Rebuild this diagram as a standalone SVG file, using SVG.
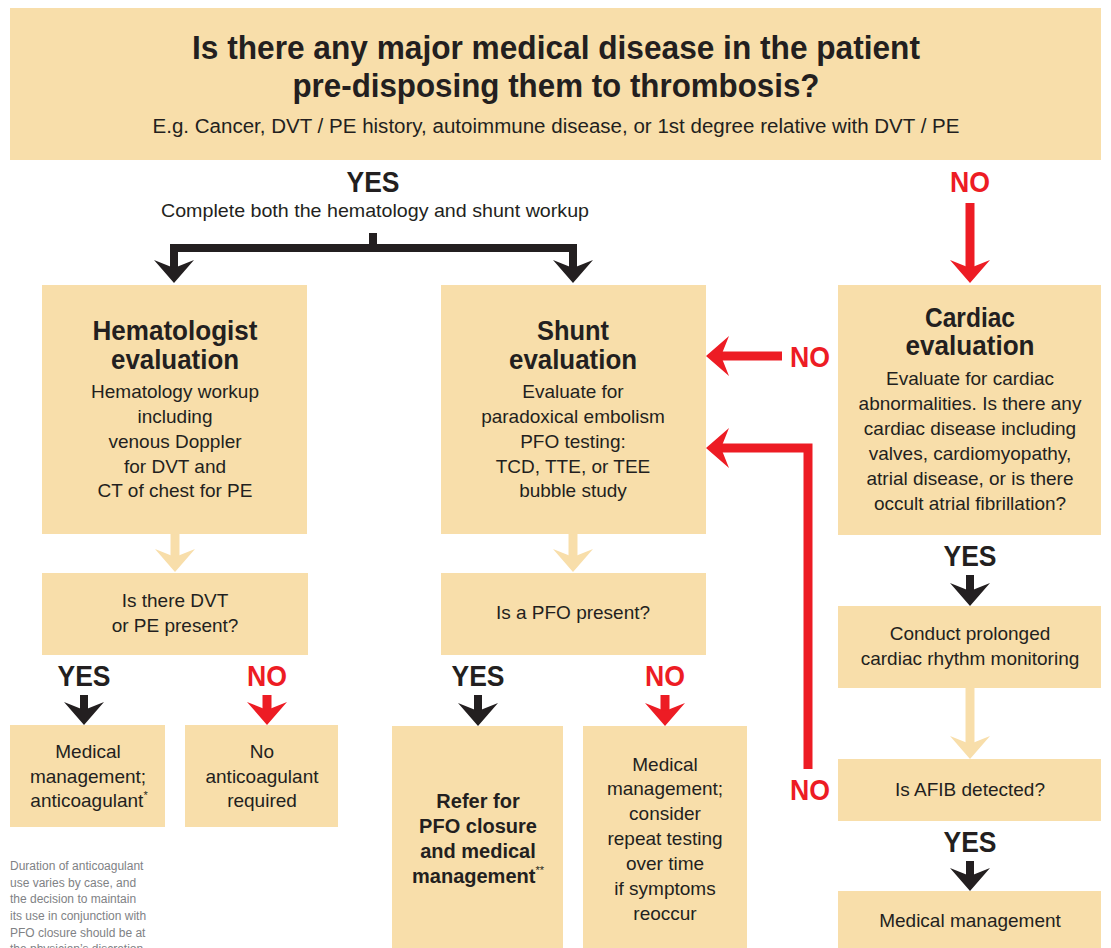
<svg xmlns="http://www.w3.org/2000/svg" xmlns:xlink="http://www.w3.org/1999/xlink" width="1111" height="948" viewBox="0 0 1111 948">
<style>
.box{fill:#F8DEAA}
.t{font-family:"Liberation Sans",Arial,sans-serif;fill:#231F20;text-anchor:middle}
.body{font-size:19px}
.bb{font-size:20px;font-weight:bold}
.h{font-size:28px;font-weight:bold}
.lbl{font-size:30px;font-weight:bold}
.red{fill:#ED1C24}
.foot{font-family:"Liberation Sans",Arial,sans-serif;font-size:12px;fill:#808285}
.lk{fill:none;stroke:#231F20;stroke-width:8}
.lr{fill:none;stroke:#ED1C24;stroke-width:9}
.lt{fill:none;stroke:#F8DEAA;stroke-width:9}
</style>
<defs>
<path id="hd" d="M0,0 L-20,-23 L0,-15 L20,-23 Z"/>
</defs>
<rect width="1111" height="948" fill="#FFFFFF"/>

<g id="title">
<rect class="box" x="10" y="8" width="1091" height="152"/>
<text class="t" x="556" y="59" font-size="34" font-weight="bold" textLength="728" lengthAdjust="spacingAndGlyphs">Is there any major medical disease in the patient</text>
<text class="t" x="556" y="97" font-size="34" font-weight="bold" textLength="527" lengthAdjust="spacingAndGlyphs">pre-disposing them to thrombosis?</text>
<text class="t" x="556" y="133" font-size="20" textLength="807" lengthAdjust="spacingAndGlyphs">E.g. Cancer, DVT / PE history, autoimmune disease, or 1st degree relative with DVT / PE</text>
</g>

<g id="connectors">
<path class="lk" d="M373,233 V248"/>
<path class="lk" d="M174,270 V248 H573 V270"/>
<use xlink:href="#hd" transform="translate(174,283)" fill="#231F20"/>
<use xlink:href="#hd" transform="translate(573,283)" fill="#231F20"/>
<path class="lr" d="M970,203 V270"/>
<use xlink:href="#hd" transform="translate(970,283)" fill="#ED1C24"/>
<path class="lr" d="M782,356 H720"/>
<use xlink:href="#hd" transform="translate(706,356) rotate(90)" fill="#ED1C24"/>
<path class="lr" d="M808,769 V448 H720"/>
<use xlink:href="#hd" transform="translate(706,448) rotate(90)" fill="#ED1C24"/>
<path class="lt" d="M175,533 V560"/>
<use xlink:href="#hd" transform="translate(175,572)" fill="#F8DEAA"/>
<path class="lt" d="M573,533 V560"/>
<use xlink:href="#hd" transform="translate(573,572)" fill="#F8DEAA"/>
<path class="lt" d="M970,688 V747"/>
<use xlink:href="#hd" transform="translate(970,759)" fill="#F8DEAA"/>
<path class="lk" d="M84,695 V713"/>
<use xlink:href="#hd" transform="translate(84,725)" fill="#231F20"/>
<path class="lr" d="M267,695 V713"/>
<use xlink:href="#hd" transform="translate(267,725)" fill="#ED1C24"/>
<path class="lk" d="M478,695 V714"/>
<use xlink:href="#hd" transform="translate(478,726)" fill="#231F20"/>
<path class="lr" d="M665,695 V714"/>
<use xlink:href="#hd" transform="translate(665,726)" fill="#ED1C24"/>
<path class="lk" d="M970,575 V594"/>
<use xlink:href="#hd" transform="translate(970,606)" fill="#231F20"/>
<path class="lk" d="M970,861 V879"/>
<use xlink:href="#hd" transform="translate(970,891)" fill="#231F20"/>
</g>

<g id="labels">
<text class="t lbl" x="373" y="192" textLength="53" lengthAdjust="spacingAndGlyphs">YES</text>
<text class="t body" x="375" y="217" textLength="428" lengthAdjust="spacingAndGlyphs">Complete both the hematology and shunt workup</text>
<text class="t lbl red" x="970" y="192" textLength="40" lengthAdjust="spacingAndGlyphs">NO</text>
<text class="t lbl red" x="810" y="367" textLength="40" lengthAdjust="spacingAndGlyphs">NO</text>
<text class="t lbl red" x="810" y="800" textLength="40" lengthAdjust="spacingAndGlyphs">NO</text>
<text class="t lbl" x="84" y="686" textLength="53" lengthAdjust="spacingAndGlyphs">YES</text>
<text class="t lbl red" x="267" y="686" textLength="40" lengthAdjust="spacingAndGlyphs">NO</text>
<text class="t lbl" x="478" y="686" textLength="53" lengthAdjust="spacingAndGlyphs">YES</text>
<text class="t lbl red" x="665" y="686" textLength="40" lengthAdjust="spacingAndGlyphs">NO</text>
<text class="t lbl" x="970" y="566" textLength="53" lengthAdjust="spacingAndGlyphs">YES</text>
<text class="t lbl" x="970" y="852" textLength="53" lengthAdjust="spacingAndGlyphs">YES</text>
</g>

<g id="hematologist">
<rect class="box" x="42" y="285" width="265" height="249"/>
<text class="t h" x="175" y="340" textLength="165" lengthAdjust="spacingAndGlyphs">Hematologist</text>
<text class="t h" x="175" y="369" textLength="128" lengthAdjust="spacingAndGlyphs">evaluation</text>
<text class="t body" x="175" y="398">Hematology workup</text>
<text class="t body" x="175" y="423">including</text>
<text class="t body" x="175" y="448">venous Doppler</text>
<text class="t body" x="175" y="473">for DVT and</text>
<text class="t body" x="175" y="497">CT of chest for PE</text>
</g>

<g id="shunt">
<rect class="box" x="441" y="285" width="265" height="249"/>
<text class="t h" x="573" y="340" textLength="72" lengthAdjust="spacingAndGlyphs">Shunt</text>
<text class="t h" x="573" y="369" textLength="128" lengthAdjust="spacingAndGlyphs">evaluation</text>
<text class="t body" x="573" y="398">Evaluate for</text>
<text class="t body" x="573" y="423">paradoxical embolism</text>
<text class="t body" x="573" y="448">PFO testing:</text>
<text class="t body" x="573" y="473">TCD, TTE, or TEE</text>
<text class="t body" x="573" y="497">bubble study</text>
</g>

<g id="cardiac">
<rect class="box" x="838" y="285" width="263" height="250"/>
<text class="t h" x="970" y="327" textLength="90" lengthAdjust="spacingAndGlyphs">Cardiac</text>
<text class="t h" x="970" y="355" textLength="129" lengthAdjust="spacingAndGlyphs">evaluation</text>
<text class="t body" x="970" y="385">Evaluate for cardiac</text>
<text class="t body" x="970" y="410">abnormalities. Is there any</text>
<text class="t body" x="970" y="435">cardiac disease including</text>
<text class="t body" x="970" y="460">valves, cardiomyopathy,</text>
<text class="t body" x="970" y="485">atrial disease, or is there</text>
<text class="t body" x="970" y="510">occult atrial fibrillation?</text>
</g>

<g id="q-dvt">
<rect class="box" x="42" y="573" width="266" height="82"/>
<text class="t body" x="175" y="607">Is there DVT</text>
<text class="t body" x="175" y="632">or PE present?</text>
</g>

<g id="q-pfo">
<rect class="box" x="441" y="573" width="265" height="82"/>
<text class="t body" x="573" y="619">Is a PFO present?</text>
</g>

<g id="med-anticoag">
<rect class="box" x="10" y="725" width="155" height="102"/>
<text class="t body" x="88" y="758">Medical</text>
<text class="t body" x="88" y="783">management;</text>
<text class="t body" x="89" y="807">anticoagulant<tspan font-size="11" dy="-8">*</tspan></text>
</g>

<g id="no-anticoag">
<rect class="box" x="185" y="725" width="153" height="102"/>
<text class="t body" x="262" y="758">No</text>
<text class="t body" x="262" y="783">anticoagulant</text>
<text class="t body" x="262" y="807">required</text>
</g>

<g id="refer">
<rect class="box" x="392" y="726" width="171" height="222"/>
<text class="t bb" x="478" y="808">Refer for</text>
<text class="t bb" x="478" y="833">PFO closure</text>
<text class="t bb" x="478" y="858">and medical</text>
<text class="t bb" x="478" y="883">management<tspan font-size="11" font-weight="normal" dy="-9">**</tspan></text>
</g>

<g id="med-repeat">
<rect class="box" x="583" y="726" width="164" height="222"/>
<text class="t body" x="665" y="771">Medical</text>
<text class="t body" x="665" y="795">management;</text>
<text class="t body" x="665" y="820">consider</text>
<text class="t body" x="665" y="845">repeat testing</text>
<text class="t body" x="665" y="870">over time</text>
<text class="t body" x="665" y="895">if symptoms</text>
<text class="t body" x="665" y="920">reoccur</text>
</g>

<g id="monitoring">
<rect class="box" x="838" y="606" width="263" height="82"/>
<text class="t body" x="970" y="640">Conduct prolonged</text>
<text class="t body" x="970" y="665">cardiac rhythm monitoring</text>
</g>

<g id="afib">
<rect class="box" x="838" y="759" width="263" height="62"/>
<text class="t body" x="970" y="796">Is AFIB detected?</text>
</g>

<g id="med-final">
<rect class="box" x="838" y="891" width="263" height="57"/>
<text class="t body" x="970" y="927">Medical management</text>
</g>

<g id="footnote">
<text class="foot" x="10" y="870">Duration of anticoagulant</text>
<text class="foot" x="10" y="886.7">use varies by case, and</text>
<text class="foot" x="10" y="903.3">the decision to maintain</text>
<text class="foot" x="10" y="920">its use in conjunction with</text>
<text class="foot" x="10" y="936.7">PFO closure should be at</text>
<text class="foot" x="10" y="953">the physician’s discretion</text>
</g>
</svg>
